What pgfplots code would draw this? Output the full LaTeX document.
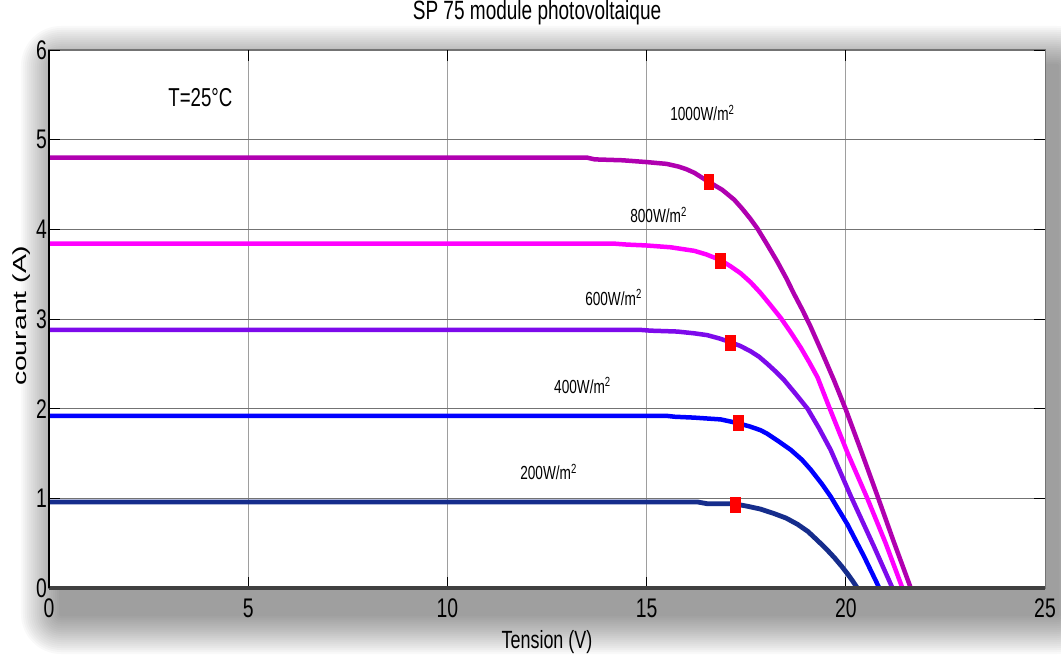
\documentclass[border=0pt]{standalone}
\usepackage{fontspec}
\setmainfont{Liberation Sans}
\newfontfamily\nf[FakeStretch=0.72]{Liberation Sans}
\newfontfamily\wf[FakeStretch=1.5]{Liberation Sans}
\usepackage{pgfplots}
\pgfplotsset{compat=1.18}
\definecolor{cA}{RGB}{176,0,176}
\definecolor{cB}{RGB}{255,0,255}
\definecolor{cC}{RGB}{125,10,235}
\definecolor{cD}{RGB}{0,0,255}
\definecolor{cE}{RGB}{22,45,140}
\begin{document}
\begin{tikzpicture}
\useasboundingbox (-49bp,-69bp) rectangle (1012bp,588bp);
\foreach \i [evaluate=\i as \r using 2*\i] in {1,...,20} {
  \fill[black, opacity=0.024, rounded corners=\r bp] ({12bp-\r bp},{-26bp-\r bp}) rectangle ({1008bp+\r bp},{522bp+\r bp});
}
\begin{axis}[
  scale only axis, width=996bp, height=538bp,
  xmin=0, xmax=25, ymin=0, ymax=6,
  xtick={0,5,...,25}, ytick={0,1,...,6},
  axis background/.style={fill=white},
  grid=major,
  major x grid style={black!38, line width=0.8bp},
  major y grid style={black!55, line width=0.9bp},
  axis line style={black!55, line width=1bp},
  tick align=inside, major tick length=11bp,
  tick style={black, line width=0.8bp},
  /pgf/number format/assume math mode=true,
  ticklabel style={font=\nf\fontsize{27}{27}\selectfont},
  yticklabel style={inner sep=2bp},
  xticklabel style={inner sep=3bp, yshift=-8bp},
  title={SP 75 module photovoltaique},
  title style={font=\nf\fontsize{26.5}{26.5}\selectfont, at={(axis description cs:0.49,1.058)}, anchor=center},
  xlabel={Tension (V)},
  xlabel style={font=\nf\fontsize{25}{25}\selectfont, at={(axis description cs:0.5,-0.1)}, anchor=center},
  ylabel={courant (A)},
  ylabel style={font=\wf\fontsize{19}{19}\selectfont, at={(axis description cs:-0.0271,0.506)}, anchor=center},
  clip=false,
]
\addplot[cA, line width=4.5bp, line join=round] coordinates {
(0,4.80) (13.5,4.80) (13.7,4.78) (14.4,4.77) (15.0,4.75) (15.5,4.73) (15.8,4.70) (16.0,4.67) (16.2,4.63) (16.52,4.54) (16.9,4.44) (17.2,4.33) (17.4,4.23) (17.6,4.12) (17.78,4.01) (18.0,3.85) (18.28,3.64) (18.5,3.46) (18.7,3.28) (18.9,3.11) (19.1,2.93) (19.4,2.63) (19.71,2.31) (20.0,1.99) (20.4,1.51) (20.8,1.02) (21.2,0.52) (21.63,0.0)
};
\addplot[cB, line width=4.5bp, line join=round] coordinates {
(0,3.84) (14.2,3.84) (14.5,3.83) (15.0,3.82) (15.6,3.80) (16.2,3.76) (16.5,3.72) (16.84,3.66) (17.1,3.59) (17.36,3.51) (17.61,3.41) (17.86,3.29) (18.1,3.16) (18.37,3.01) (18.62,2.85) (18.87,2.68) (19.08,2.52) (19.29,2.35) (19.58,2.02) (20.05,1.5) (20.54,1.0) (21.0,0.5) (21.42,0.0)
};
\addplot[cC, line width=4.5bp, line join=round] coordinates {
(0,2.88) (14.8,2.88) (15.1,2.87) (15.77,2.86) (16.2,2.84) (16.52,2.82) (16.85,2.78) (17.11,2.74) (17.35,2.70) (17.61,2.64) (17.82,2.58) (18.03,2.50) (18.25,2.41) (18.45,2.32) (18.75,2.16) (19.04,2.00) (19.33,1.78) (19.62,1.54) (20.13,1.02) (20.71,0.46) (21.17,0.0)
};
\addplot[cD, line width=4.5bp, line join=round] coordinates {
(0,1.92) (15.5,1.92) (15.7,1.91) (16.2,1.90) (16.86,1.88) (17.28,1.84) (17.6,1.80) (17.86,1.76) (18.03,1.72) (18.3,1.64) (18.62,1.54) (18.9,1.43) (19.12,1.32) (19.4,1.16) (19.62,1.02) (20.04,0.71) (20.46,0.35) (20.84,0.0)
};
\addplot[cE, line width=4.8bp, line join=round] coordinates {
(0,0.96) (16.27,0.96) (16.52,0.94) (17.19,0.94) (17.55,0.91) (17.86,0.88) (18.2,0.83) (18.5,0.78) (18.79,0.71) (19.05,0.63) (19.29,0.53) (19.5,0.44) (19.71,0.34) (19.9,0.24) (20.04,0.16) (20.17,0.08) (20.29,0.0)
};
\addplot[only marks, mark=square*, mark size=7.5bp, mark options={xscale=0.62, fill=red, draw=red, rounded corners=2.5bp}] coordinates {
(16.55,4.53) (16.85,3.65) (17.1,2.74) (17.3,1.84) (17.22,0.93)
};
\draw[black!75, line width=3bp] (rel axis cs:0,0) -- (rel axis cs:1,0);
\draw[black, line width=1.5bp] (rel axis cs:0,0) -- (rel axis cs:0,1);
\node[font=\nf\fontsize{26}{26}\selectfont] at (axis cs:3.8,5.47) {T=25°C};
\node[font=\nf\fontsize{19}{19}\selectfont] at (axis cs:16.4,5.30) {1000W/m\textsuperscript{2}};
\node[font=\nf\fontsize{19}{19}\selectfont] at (axis cs:15.30,4.16) {800W/m\textsuperscript{2}};
\node[font=\nf\fontsize{19}{19}\selectfont] at (axis cs:14.17,3.24) {600W/m\textsuperscript{2}};
\node[font=\nf\fontsize{19}{19}\selectfont] at (axis cs:13.39,2.26) {400W/m\textsuperscript{2}};
\node[font=\nf\fontsize{19}{19}\selectfont] at (axis cs:12.54,1.29) {200W/m\textsuperscript{2}};
\end{axis}
\end{tikzpicture}
\end{document}
